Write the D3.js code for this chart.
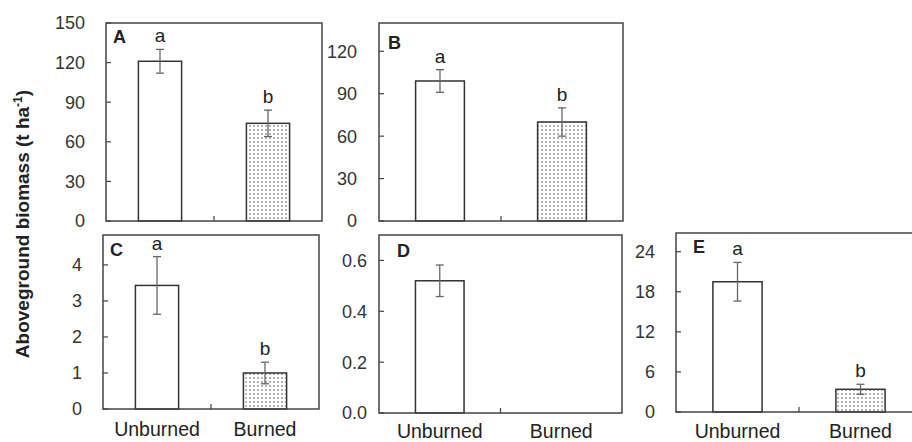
<!DOCTYPE html>
<html>
<head>
<meta charset="utf-8">
<script src="https://cdn.jsdelivr.net/npm/d3@7"></script>
<style>
  body { margin: 0; background: #fff; }
  text { font-family: "Liberation Sans", Arial, sans-serif; fill: #222; }
</style>
</head>
<body>
<div id="chart"></div>
<script>
var categories = ["Unburned", "Burned"];

// means, standard errors and letters per panel
var panelNames = ["A", "B", "C", "D", "E"];
var meansA = [121, 74],    errA = [9, 10],      lettersA = ["a", "b"];
var meansB = [99, 70],     errB = [8, 10],      lettersB = ["a", "b"];
var meansC = [3.43, 1.0],  errC = [0.8, 0.3],   lettersC = ["a", "b"];
var meansD = [0.52, null], errD = [0.062, null], lettersD = ["", ""];
var meansE = [19.5, 3.4],  errE = [2.9, 0.75],  lettersE = ["a", "b"];

var ticksA = [0, 30, 60, 90, 120, 150];
var ticksB = [0, 30, 60, 90, 120];
var ticksC = [0, 1, 2, 3, 4];
var ticksD = [0, 0.2, 0.4, 0.6];
var ticksE = [0, 6, 12, 18, 24];

var yMax = [150, 140, 4.83, 0.7, 26.8];

var width = 912, height = 442;

var svg = d3.select("#chart").append("svg")
    .attr("width", width)
    .attr("height", height);

// stipple pattern for burned bars
var pat = svg.append("defs").append("pattern")
    .attr("id", "dots")
    .attr("patternUnits", "userSpaceOnUse")
    .attr("width", 4).attr("height", 4);
pat.append("rect").attr("width", 4).attr("height", 4).attr("fill", "#fff");
pat.append("circle").attr("cx", 2).attr("cy", 2).attr("r", 0.75).attr("fill", "#444");

// panel boxes: left, top, right, bottom
var panels = [
  {name: "A", box: [106, 23, 322, 221], means: meansA, err: errA, letters: lettersA, ticks: ticksA, fmt: d3.format("d"), labelRight: 85, showX: false, lx: 7, ly: 20},
  {name: "B", box: [379, 23, 623, 221], means: meansB, err: errB, letters: lettersB, ticks: ticksB, fmt: d3.format("d"), labelRight: 357, showX: false, lx: 9, ly: 26},
  {name: "C", box: [103, 235, 319, 409], means: meansC, err: errC, letters: lettersC, ticks: ticksC, fmt: d3.format("d"), labelRight: 82, showX: true, xLabelY: 436, lx: 7, ly: 21},
  {name: "D", box: [379, 235, 622, 413], means: meansD, err: errD, letters: lettersD, ticks: ticksD, fmt: d3.format(".1f"), labelRight: 367, showX: true, xLabelY: 438, lx: 18, ly: 22},
  {name: "E", box: [676, 233, 922, 412], means: meansE, err: errE, letters: lettersE, ticks: ticksE, fmt: d3.format("d"), labelRight: 655, showX: true, xLabelY: 438, lx: 17, ly: 20}
];

panels.forEach(function(p, i) {
  var x0 = p.box[0], y0 = p.box[1], x1 = p.box[2], y1 = p.box[3];

  var x = d3.scaleBand()
      .domain(categories)
      .range([x0, x1])
      .paddingInner(0.6)
      .paddingOuter(0.3);

  var y = d3.scaleLinear()
      .domain([0, yMax[i]])
      .range([y1, y0]);

  var g = svg.append("g").attr("class", "panel");

  // bars
  var rows = categories.map(function(c, j) {
    return {cat: c, mean: p.means[j], err: p.err[j], letter: p.letters[j], j: j};
  }).filter(function(d) { return d.mean != null; });

  g.selectAll("rect.bar")
      .data(rows)
    .enter().append("rect")
      .attr("class", "bar")
      .attr("x", function(d) { return x(d.cat); })
      .attr("y", function(d) { return y(d.mean); })
      .attr("width", x.bandwidth())
      .attr("height", function(d) { return y(0) - y(d.mean); })
      .attr("fill", function(d) { return d.j == 1 ? "url(#dots)" : "#fff"; })
      .attr("stroke", "#333")
      .attr("stroke-width", 1.5);

  // error bars
  var eb = g.selectAll("g.err")
      .data(rows)
    .enter().append("g")
      .attr("class", "err")
      .attr("stroke", "#666")
      .attr("stroke-width", 1.3);
  var cx = function(d) { return x(d.cat) + x.bandwidth() / 2; };
  eb.append("line")
      .attr("x1", cx).attr("x2", cx)
      .attr("y1", function(d) { return y(d.mean + d.err); })
      .attr("y2", function(d) { return y(d.mean - d.err); });
  [1, -1].forEach(function(s) {
    eb.append("line")
        .attr("x1", function(d) { return cx(d) - 4; })
        .attr("x2", function(d) { return cx(d) + 4; })
        .attr("y1", function(d) { return y(d.mean + s * d.err); })
        .attr("y2", function(d) { return y(d.mean + s * d.err); });
  });

  // significance letters
  g.selectAll("text.sig")
      .data(rows)
    .enter().append("text")
      .attr("class", "sig")
      .attr("x", cx)
      .attr("y", function(d) { return y(d.mean + d.err) - 7; })
      .attr("text-anchor", "middle")
      .attr("font-size", 19)
      .text(function(d) { return d.letter; });

  // frame
  g.append("rect")
      .attr("x", x0).attr("y", y0)
      .attr("width", x1 - x0).attr("height", y1 - y0)
      .attr("fill", "none")
      .attr("stroke", "#444")
      .attr("stroke-width", 1.5);

  // inward y ticks
  g.selectAll("line.ytick")
      .data(p.ticks)
    .enter().append("line")
      .attr("x1", x0).attr("x2", x0 + 5)
      .attr("y1", function(d) { return y(d); })
      .attr("y2", function(d) { return y(d); })
      .attr("stroke", "#444")
      .attr("stroke-width", 1.2);

  g.selectAll("text.ylab")
      .data(p.ticks)
    .enter().append("text")
      .attr("x", p.labelRight)
      .attr("y", function(d) { return y(d); })
      .attr("dy", "0.36em")
      .attr("text-anchor", "end")
      .attr("font-size", 18)
      .style("fill", "#333")
      .text(function(d) { return p.fmt(d); });

  // middle x tick between categories
  var mid = (x0 + x1) / 2;
  g.append("line")
      .attr("x1", mid).attr("x2", mid)
      .attr("y1", y1).attr("y2", y1 - 5)
      .attr("stroke", "#444")
      .attr("stroke-width", 1.2);

  // x labels
  if (p.showX) {
    g.selectAll("text.xlab")
        .data(categories)
      .enter().append("text")
        .attr("x", function(d) { return x(d) + x.bandwidth() / 2; })
        .attr("y", p.xLabelY)
        .attr("text-anchor", "middle")
        .attr("font-size", 19.5)
        .text(function(d) { return d; });
  }

  // panel letter
  g.append("text")
      .attr("x", x0 + p.lx)
      .attr("y", y0 + p.ly)
      .attr("font-size", 18)
      .attr("font-weight", "bold")
      .text(p.name);
});

// shared y title
var title = svg.append("text")
    .attr("transform", "translate(29,224) rotate(-90)")
    .attr("text-anchor", "middle")
    .attr("font-size", 19)
    .attr("font-weight", "bold");
title.append("tspan").text("Aboveground biomass (t ha");
title.append("tspan").attr("font-size", 12).attr("dy", -7).text("-1");
title.append("tspan").attr("dy", 7).text(")");
</script>
</body>
</html>
